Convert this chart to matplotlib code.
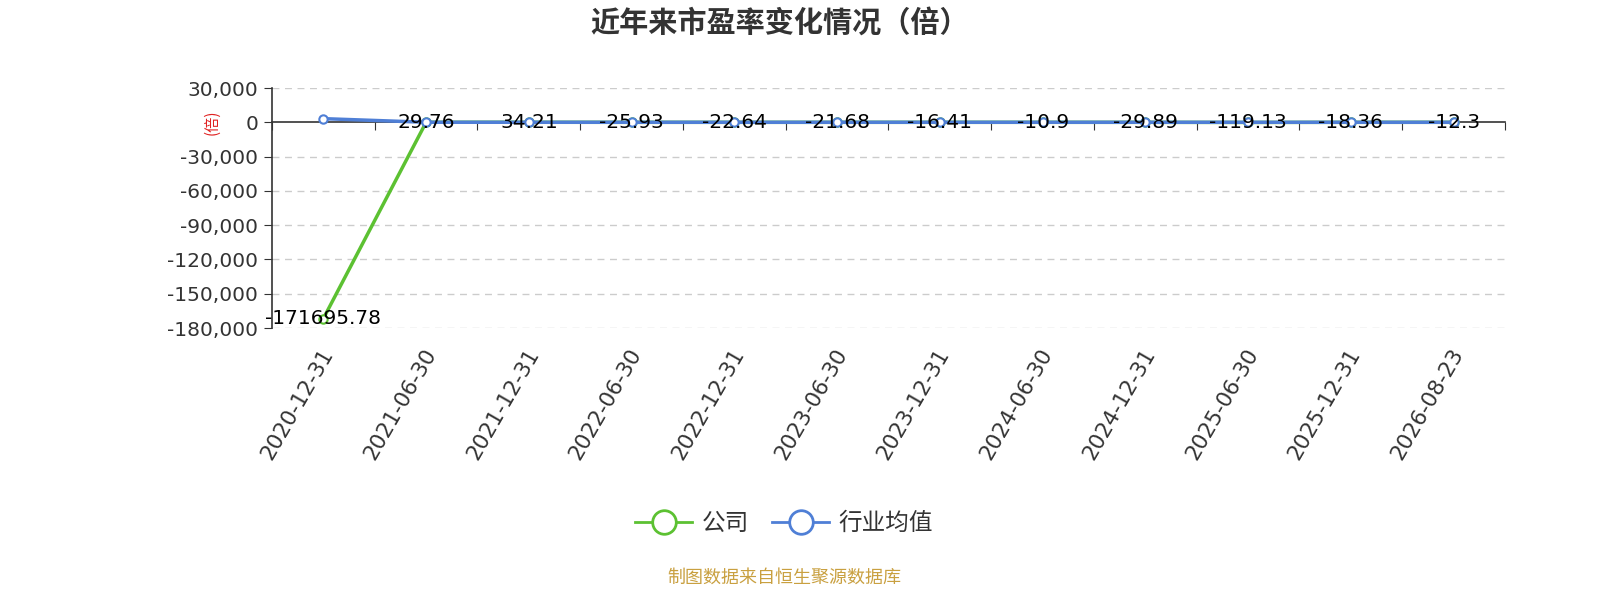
import matplotlib
matplotlib.use("Agg")
import matplotlib.pyplot as plt
from matplotlib.lines import Line2D
from matplotlib.transforms import blended_transform_factory

plt.rcParams['font.family'] = ['DejaVu Sans', 'Noto Sans CJK SC']

dates = ['2020-12-31', '2021-06-30', '2021-12-31', '2022-06-30', '2022-12-31', '2023-06-30',
         '2023-12-31', '2024-06-30', '2024-12-31', '2025-06-30', '2025-12-31', '2026-08-23']
company = [-171695.78, 29.76, 34.21, -25.93, -22.64, -21.68,
           -16.41, -10.9, -29.89, -119.13, -18.36, -12.3]
industry = [3200, 40, 38, 32, 30, 31, 33, 30, 29, 28, 27, 27]
yticks = [30000, 0, -30000, -60000, -90000, -120000, -150000, -180000]

green = '#5cc132'
blue = '#4f7fd6'
dark = '#333333'
cjk = ['Noto Sans CJK SC', 'DejaVu Sans']

fig = plt.figure(figsize=(16, 6), dpi=100)
ax = fig.add_axes([0.17, 0.4533, 0.7706, 0.4])

x = list(range(len(dates)))
ax.plot(x, company, color=green, lw=2.5, marker='o', ms=6, mfc='white', mec=green, mew=1.5, zorder=3)
ax.plot(x, industry, color=blue, lw=2.5, marker='o', ms=6, mfc='white', mec=blue, mew=1.5, zorder=4)

for i, v in enumerate(company):
    ax.text(i, v, f'{v:g}' if abs(v) < 1000 else f'{v:.2f}', ha='center', va='center',
            fontsize=14.5, color='black', zorder=5)

ax.set_xlim(-0.5, len(dates) - 0.5)
ax.set_ylim(-180000, 30000)
ax.set_yticks(yticks)
ax.set_yticklabels([f'{t:,}' for t in yticks], fontsize=14.5, color=dark)
ax.tick_params(axis='y', length=6, color=dark, pad=4)
for t in yticks:
    if t != 0:
        ax.axhline(t, color='#cccccc', lw=1, ls=(0, (5, 4)), zorder=0)

ax.spines['top'].set_visible(False)
ax.spines['right'].set_visible(False)
ax.spines['left'].set_color(dark)
ax.spines['left'].set_linewidth(1.2)
ax.spines['bottom'].set_position(('data', 0))
ax.spines['bottom'].set_color(dark)
ax.spines['bottom'].set_linewidth(1.2)
ax.set_xticks([i - 0.5 for i in range(len(dates) + 1)])
ax.set_xticklabels([])
ax.tick_params(axis='x', length=6, color=dark, direction='out')

trans = blended_transform_factory(ax.transData, ax.transAxes)
for i, d in enumerate(dates):
    ax.text(i + 0.05, -0.09, d, transform=trans, rotation=60, rotation_mode='anchor',
            ha='right', va='center', fontsize=15.5, color=dark)

ax.text(-0.049, 0.858, '(倍)', transform=ax.transAxes, rotation=90, color='#e02020',
        fontsize=11, ha='center', va='center', family=cjk)

fig.text(0.4875, 0.963, '近年来市盈率变化情况（倍）', ha='center', va='center',
         fontsize=21, fontweight='bold', color=dark, family=cjk)

handles = [Line2D([], [], color=green, lw=2, marker='o', ms=17, mfc='white', mec=green, mew=2),
           Line2D([], [], color=blue, lw=2, marker='o', ms=17, mfc='white', mec=blue, mew=2)]
fig.legend(handles, ['公司', '行业均值'], loc='center', bbox_to_anchor=(0.49, 0.127), ncol=2,
           frameon=False, prop={'family': cjk, 'size': 17}, handlelength=2.4,
           columnspacing=1.0, handletextpad=0.4, labelcolor=dark)

fig.text(0.49, 0.038, '制图数据来自恒生聚源数据库', ha='center', va='center',
         fontsize=13, color='#c9a040', family=cjk)

fig.savefig('out.png', dpi=100)
